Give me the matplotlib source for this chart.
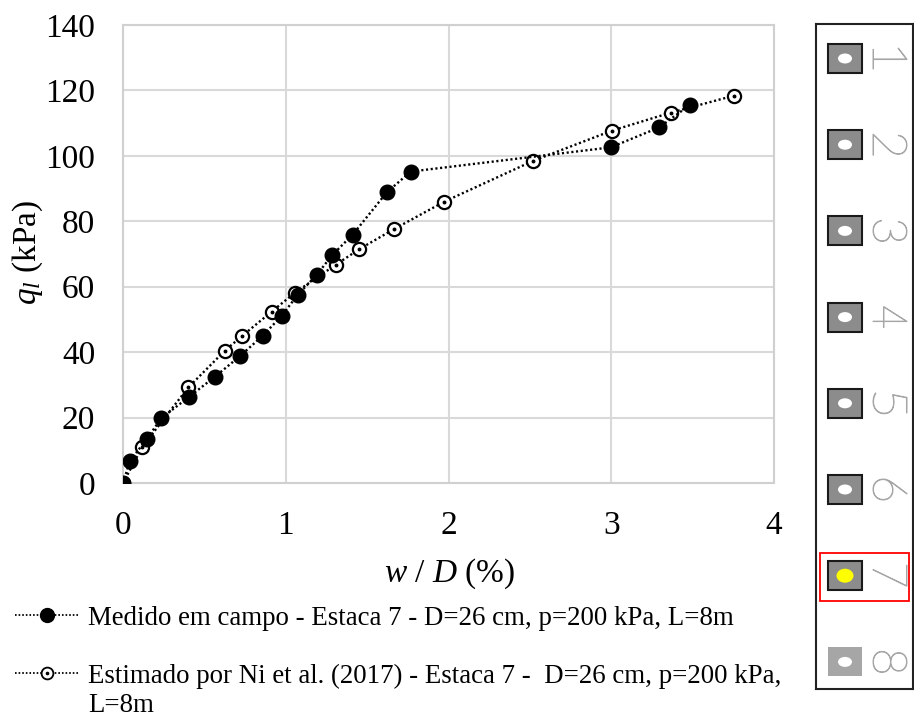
import matplotlib
matplotlib.use("Agg")
import matplotlib.pyplot as plt
from matplotlib.lines import Line2D
from matplotlib.patches import Rectangle, Ellipse, PathPatch
from matplotlib.textpath import TextPath
from matplotlib.font_manager import FontProperties
from matplotlib.transforms import Affine2D

plt.rcParams['font.family'] = ['Liberation Serif', 'DejaVu Serif']
plt.rcParams['mathtext.fontset'] = 'custom'
plt.rcParams['mathtext.it'] = 'Liberation Serif:italic'
plt.rcParams['mathtext.rm'] = 'Liberation Serif'

# measured pile (field test)
w_med = [0.0, 0.043, 0.146, 0.235, 0.408, 0.565, 0.719, 0.858, 0.975, 1.073,
         1.19, 1.286, 1.411, 1.62, 1.768, 2.997, 3.295, 3.484]
q_med = [0.0, 6.8, 13.4, 19.8, 26.4, 32.5, 38.8, 45.0, 51.1, 57.5,
         63.6, 69.7, 75.9, 88.8, 95.2, 102.6, 108.7, 115.6]

# Ni et al. (2017) estimate
w_est = [0.0, 0.119, 0.401, 0.627, 0.733, 0.914, 1.057, 1.307, 1.452, 1.665,
         1.974, 2.521, 3.004, 3.365, 3.754]
q_est = [0.0, 11.1, 29.2, 40.5, 45.0, 52.4, 58.2, 66.7, 71.5, 77.6,
         86.0, 98.5, 107.7, 113.2, 118.4]

lbl_med = "Medido em campo - Estaca 7 - D=26 cm, p=200 kPa, L=8m"
lbl_est = "Estimado por Ni et al. (2017) - Estaca 7 -  D=26 cm, p=200 kPa,\nL=8m"

pile_ids = ["1", "2", "3", "4", "5", "6", "7", "8"]
selected = "7"

W, H = 914, 720
fig = plt.figure(figsize=(W / 100, H / 100), dpi=100)
ax = fig.add_axes([123 / W, 1 - 483 / H, (774 - 123) / W, (483 - 25) / H])

dots = (0, (0.9, 1.1))
ax.plot(w_est, q_est, color='black', lw=1.7, ls=dots, marker='o', ms=9.5,
        mfc='white', mec='black', mew=1.6, zorder=3)
ax.plot(w_est, q_est, ls='none', marker='o', ms=1.8, color='black', zorder=4)
ax.plot(w_med, q_med, color='black', lw=1.7, ls=dots, marker='o', ms=10.5,
        mfc='black', mec='black', zorder=5)

ax.set_xlim(0, 4)
ax.set_ylim(0, 140)
ax.set_xticks([0, 1, 2, 3, 4])
ax.set_yticks(range(0, 141, 20))
ax.grid(True, color='#d9d9d9', lw=1.5)
ax.set_axisbelow(True)
for s in ax.spines.values():
    s.set_color('#d0d0d0')
    s.set_linewidth(1.5)
ax.tick_params(length=0, labelsize=24)
ax.tick_params(axis='x', pad=20)
ax.tick_params(axis='y', pad=20)
ax.set_xlabel(r'$w$ / $D$ (%)', fontsize=24)
ax.set_ylabel(r'$q_l$ (kPa)', fontsize=24)
ax.xaxis.set_label_coords(0.502, -0.161)
ax.yaxis.set_label_coords(-0.147, 0.504)
ax.yaxis.label.set_horizontalalignment('center')
ax.yaxis.label.set_verticalalignment('center')


# legend below the chart, handle beside the first text line
def legend_row(y, baseline, filled, text):
    fy = 1 - y / H
    fig.add_artist(Line2D([15 / W, 78 / W], [fy, fy], transform=fig.transFigure,
                          color='black', lw=1.3, ls=(0, (0.9, 1.1))))
    if filled:
        fig.add_artist(Line2D([47 / W], [fy], transform=fig.transFigure,
                              marker='o', ms=10, color='black'))
    else:
        fig.add_artist(Line2D([47 / W], [fy], transform=fig.transFigure,
                              marker='o', ms=8.5, mfc='white', mec='black', mew=1.3))
        fig.add_artist(Line2D([47 / W], [fy], transform=fig.transFigure,
                              marker='o', ms=1.6, color='black'))
    for k, line in enumerate(text.split('\n')):
        fig.text(88 / W, 1 - (baseline + 29 * k) / H, line, fontsize=19.4,
                 ha='left', va='baseline', transform=fig.transFigure)


legend_row(615, 625, True, lbl_med)
legend_row(673, 683, False, lbl_est)

# pile selector panel on the right
px0, px1, py0, py1 = 816, 913, 24, 689
pan = fig.add_axes([px0 / W, 1 - py1 / H, (px1 - px0) / W, (py1 - py0) / H])
pan.set_xlim(px0, px1)
pan.set_ylim(py1, py0)
pan.set_xticks([])
pan.set_yticks([])
for s in pan.spines.values():
    s.set_color('#222222')
    s.set_linewidth(1.5)

digit_font = FontProperties(family='Lato', weight=200)


def pile_number(txt, cx, cy):
    # narrow thin digit, turned a quarter clockwise
    tp = TextPath((0, 0), txt, size=10, prop=digit_font)
    bb = tp.get_extents()
    sx = 21 / bb.width
    sy = 34 / bb.height
    tr = (Affine2D().translate(-bb.x0 - bb.width / 2, -bb.y0 - bb.height / 2)
          .scale(sx, -sy).rotate_deg(90).translate(cx, cy))
    pan.add_patch(PathPatch(tr.transform_path(tp), facecolor='#f2f2f2',
                            edgecolor='#a6a6a6', lw=0.7))


for i, pid in enumerate(pile_ids):
    cy = 58.5 + i * 86.2
    last = (i == len(pile_ids) - 1)
    pan.add_patch(Rectangle((828, cy - 14.5), 34, 29,
                            facecolor='#a6a6a6' if last else '#8c8c8c',
                            edgecolor='none' if last else '#1a1a1a', lw=1.5))
    if pid == selected:
        pan.add_patch(Ellipse((845, cy), 17, 14, facecolor='#ffff00', edgecolor='none'))
        pan.add_patch(Rectangle((820, cy - 23), 89, 48, facecolor='none',
                                edgecolor='#ff0000', lw=1.3))
    else:
        pan.add_patch(Ellipse((845, cy), 14, 10, facecolor='white', edgecolor='none'))
    pile_number(pid, 890, cy)

fig.savefig('out.png', dpi=100)
